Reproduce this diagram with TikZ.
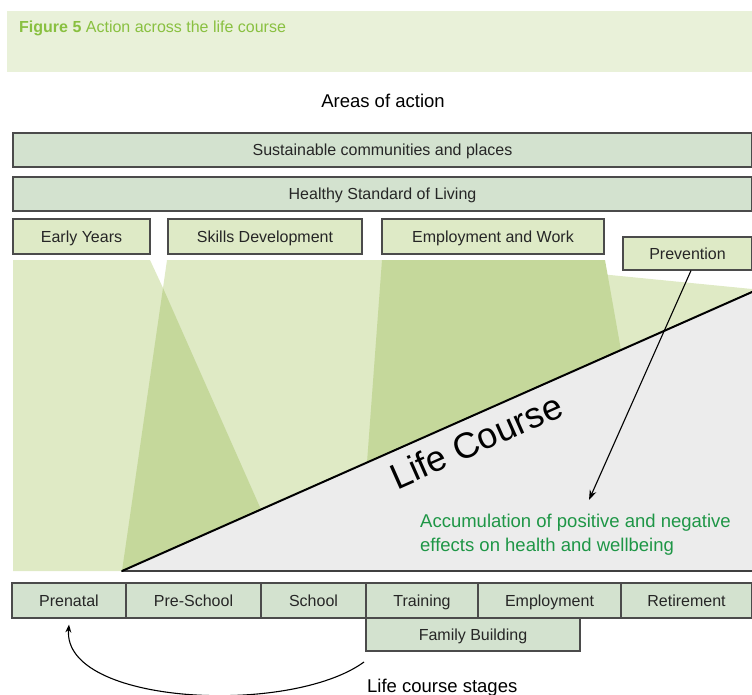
\documentclass[tikz,border=0pt]{standalone}
\usepackage{fontspec}
\setmainfont{Liberation Sans}
\usetikzlibrary{arrows.meta,calc}
\definecolor{hdr}{RGB}{233,241,217}
\definecolor{ttl}{RGB}{137,192,64}
\definecolor{boxA}{RGB}{211,226,207}
\definecolor{boxB}{RGB}{222,234,198}
\definecolor{fanL}{RGB}{223,234,197}
\definecolor{fanD}{RGB}{197,216,155}
\definecolor{greyT}{RGB}{236,236,236}
\definecolor{bord}{RGB}{75,75,75}
\definecolor{acc}{RGB}{30,150,70}
\tikzset{
  abox/.style={draw=bord, line width=1.1pt, fill=boxA, inner sep=0pt, text height=14pt, text depth=2.5pt, font=\fontsize{16}{18}\selectfont, text=black!85},
  bbox/.style={abox, fill=boxB},
  stagebox/.style={abox, minimum height=35pt},
  dotline/.style={draw=black!40, line width=1.1pt, dash pattern=on 1.2pt off 1.8pt},
}
\begin{document}
\begin{tikzpicture}[x=1pt,y=-1pt]
\useasboundingbox (0,0) rectangle (752,695);
% header
\fill[hdr] (7,11) rectangle (752,72);
\node[anchor=west, inner sep=0pt, text=ttl, font=\fontsize{16}{18}\selectfont] (title) at (19,28) {\textbf{Figure 5} Action across the life course};
\node[font=\fontsize{18.5}{22}\selectfont] (areas) at (383,101) {Areas of action};
% area boxes
\node[abox, minimum width=739pt, minimum height=34pt] (sus) at (382.5,150) {Sustainable communities and places};
\node[abox, minimum width=739pt, minimum height=34pt] (hsl) at (382.5,194) {Healthy Standard of Living};
\node[bbox, minimum width=137pt, minimum height=35pt] (early) at (81.5,236.5) {Early Years};
\node[bbox, minimum width=194pt, minimum height=35pt] (skills) at (265,236.5) {Skills Development};
\node[bbox, minimum width=222pt, minimum height=35pt] (empw) at (493,236.5) {Employment and Work};
% fans
\coordinate (apex) at (122,571);
\coordinate (ltop) at (752,292);
\fill[fanL] (13,260) -- (150,260) -- (163,288) -- (167,260) -- (600,260) -- (605,274.5) -- (752,289) -- (ltop) -- (apex) -- (13,571) -- cycle;
\fill[fanD] (163,288) -- ($(apex)!0.2206!(ltop)$) -- (apex) -- cycle;
\fill[fanD] (382,260) -- (605,260) -- ($(apex)!0.792!(ltop)$) -- ($(apex)!0.3889!(ltop)$) -- cycle;
% grey triangle
\fill[greyT] (apex) -- (ltop) -- (752,571) -- cycle;
\foreach \t in {0.2206,0.3889,0.792}{
  \draw[dotline] ($(apex)!\t!(ltop)$) -- ($(apex)!\t!(ltop)$ |- apex);
}
\draw[line width=2pt, draw=black!75] (apex) -- (752,571);
\draw[line width=2pt, line cap=round] (apex) -- (ltop);
\node[rotate=23.9, font=\fontsize{36}{40}\selectfont, inner sep=0pt] (lc) at (476,441) {Life Course};
\node[anchor=west, align=left, text=acc, inner sep=0pt, font=\fontsize{18.5}{24}\selectfont] (accum) at (420,535) {Accumulation of positive and negative\\effects on health and wellbeing};
% prevention
\node[bbox, minimum width=129pt, minimum height=33pt] (prev) at (687.5,253.5) {Prevention};
\coordinate (pend) at (589,500);
\draw[line width=1.1pt, -{Stealth[length=10pt,width=7pt]}] ([xshift=3.5pt]prev.south) -- (pend);
% stages
\node[stagebox, minimum width=114pt] (prenatal) at (69,600.5) {Prenatal};
\node[stagebox, minimum width=135pt] (preschool) at (193.5,600.5) {Pre-School};
\node[stagebox, minimum width=105pt] (school) at (313.5,600.5) {School};
\node[stagebox, minimum width=112pt] (training) at (422,600.5) {Training};
\node[stagebox, minimum width=143pt] (employment) at (549.5,600.5) {Employment};
\node[stagebox, minimum width=131pt] (retirement) at (686.5,600.5) {Retirement};
\node[abox, minimum width=214pt, minimum height=33pt] (family) at (473,634.5) {Family Building};
% life course stages
\node[anchor=west, inner sep=0pt, font=\fontsize{18.5}{22}\selectfont] (lcs) at (367,688) {Life course stages};
\coordinate (cstart) at (364,662);
\draw[line width=1.1pt, -{Stealth[length=8pt,width=6pt]}] (cstart) .. controls (290,716) and (62,705) .. ([yshift=-6pt]prenatal.south);
\end{tikzpicture}
\end{document}
